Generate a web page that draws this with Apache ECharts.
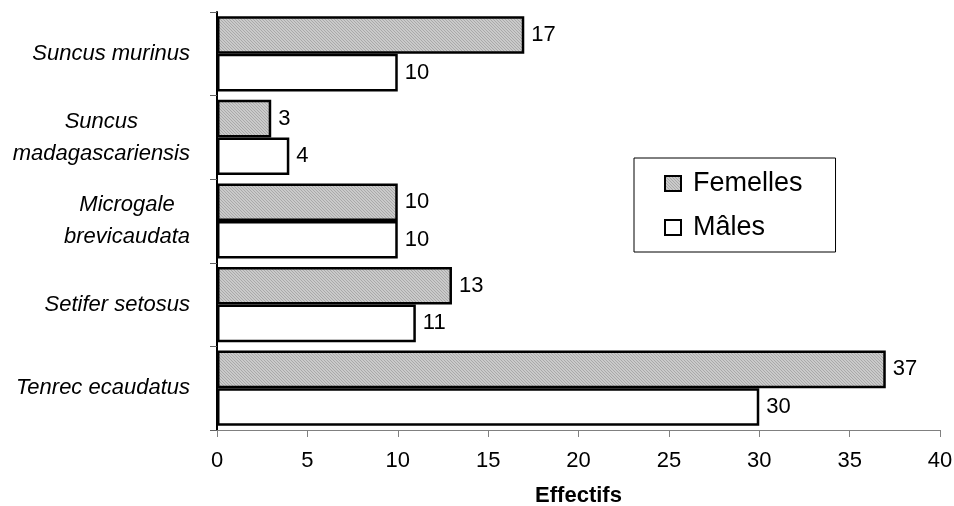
<!DOCTYPE html>
<html><head><meta charset="utf-8">
<script src="https://cdn.jsdelivr.net/npm/echarts@6/dist/echarts.min.js"></script>
<style>html,body{margin:0;padding:0;background:#fff}#c{width:954px;height:506px}</style>
</head><body><div id="c"></div>
<script>
const categories = ['Tenrec ecaudatus', 'Setifer setosus', 'Microgale\nbrevicaudata', 'Suncus\nmadagascariensis', 'Suncus murinus'];
const femelles = [37, 13, 10, 3, 17];
const males = [30, 11, 10, 4, 10];
const seriesNames = ['Femelles', 'Mâles'];
const xMin = 0, xMax = 40, xStep = 5;
const axisTitle = 'Effectifs';

function hatch() {
  const c = document.createElement('canvas');
  c.width = 3; c.height = 3;
  const g = c.getContext('2d');
  g.fillStyle = '#cacaca'; g.fillRect(0, 0, 3, 3);
  g.fillStyle = '#a9a9a9';
  for (let i = 0; i < 3; i++) g.fillRect(i, i, 1, 1);
  return c;
}
const hatchFill = { image: hatch(), repeat: 'repeat' };
const FONT = 'Liberation Sans, Arial, sans-serif';

const chart = echarts.init(document.getElementById('c'), null, { renderer: 'canvas' });
chart.setOption({
  animation: false,
  backgroundColor: '#fff',
  textStyle: { fontFamily: FONT },
  grid: { left: 217, right: 14, top: 12, bottom: 76, containLabel: false, outerBoundsMode: 'none' },
  legend: {
    data: seriesNames,
    orient: 'vertical',
    left: 634, top: 158,
    icon: 'rect',
    itemWidth: 16, itemHeight: 15,
    itemGap: 17,
    padding: [12, 33, 11, 30],
    borderColor: '#000', borderWidth: 1,
    backgroundColor: '#fff',
    textStyle: { fontSize: 27, color: '#000', fontFamily: FONT, padding: [0, 0, 0, 7] },
    selectedMode: false
  },
  xAxis: {
    type: 'value', min: xMin, max: xMax, interval: xStep,
    name: axisTitle, nameLocation: 'middle', nameGap: 55,
    nameTextStyle: { fontSize: 22, fontWeight: 'bold', color: '#000', fontFamily: FONT },
    axisLine: { show: true, lineStyle: { color: '#808080', width: 1 } },
    axisTick: { show: true, length: 7, lineStyle: { color: '#808080' } },
    splitLine: { show: false },
    axisLabel: { fontSize: 22, color: '#000', margin: 20, fontFamily: FONT }
  },
  yAxis: {
    type: 'category', data: categories,
    axisLine: { show: true, lineStyle: { color: '#000', width: 2 } },
    axisTick: { show: true, length: 7, alignWithLabel: false, lineStyle: { color: '#606060' } },
    axisLabel: {
      align: 'right', margin: 27, color: '#000',
      formatter: v => v.split('\n').map(s => '{c|' + s + '}').join('\n'),
      rich: { c: { align: 'center', fontSize: 22, fontStyle: 'italic', lineHeight: 32, color: '#000', fontFamily: FONT } }
    }
  },
  series: [
    {
      name: seriesNames[0], type: 'bar', data: femelles,
      barGap: '0%', barCategoryGap: '10%',
      itemStyle: { color: hatchFill, borderColor: '#000', borderWidth: 2.5 },
      label: { show: true, position: 'right', distance: 7, fontSize: 22, color: '#000', fontFamily: FONT }
    },
    {
      name: seriesNames[1], type: 'bar', data: males,
      barGap: '0%', barCategoryGap: '10%',
      itemStyle: { color: '#fff', borderColor: '#000', borderWidth: 2.5 },
      label: { show: true, position: 'right', distance: 7, fontSize: 22, color: '#000', fontFamily: FONT }
    }
  ]
});
</script></body></html>
